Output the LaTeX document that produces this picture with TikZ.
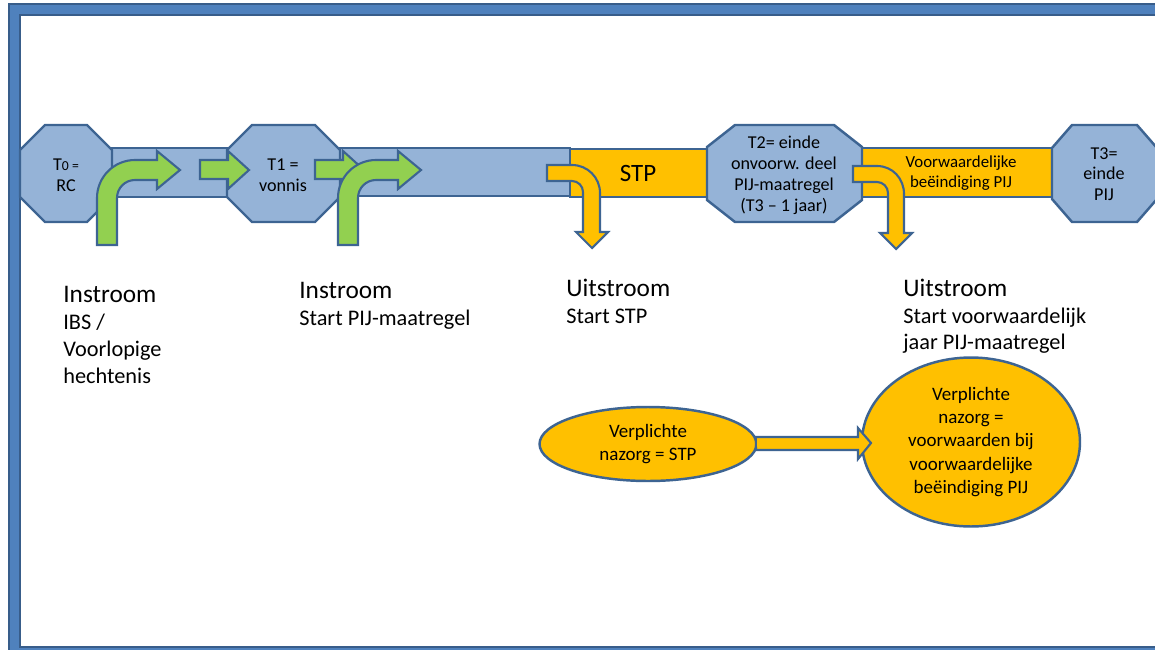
\documentclass[tikz,border=0pt]{standalone}
\usepackage{fontspec}
\setmainfont{Carlito}
\usetikzlibrary{shapes.geometric}
\definecolor{oblue}{HTML}{95B3D7}
\definecolor{edgeblue}{HTML}{3D6492}
\definecolor{fgreen}{HTML}{92D050}
\definecolor{forange}{HTML}{FFC000}
\definecolor{framefill}{HTML}{4F81BD}
\definecolor{frameedge}{HTML}{385D8A}
\begin{document}
\begin{tikzpicture}[x=0.02cm,y=-0.02cm,
  octa/.style={fill=oblue,draw=edgeblue,line width=1.4pt,line join=miter},
  bluebar/.style={fill=oblue,draw=edgeblue,line width=1.3pt},
  orangebar/.style={fill=forange,draw=edgeblue,line width=1.3pt},
  garrow/.style={fill=fgreen,draw=edgeblue,line width=1.2pt,line join=miter},
  oarrow/.style={fill=forange,draw=edgeblue,line width=1.2pt,line join=miter},
  blob/.style={ellipse,fill=forange,draw=edgeblue,line width=1.4pt,inner sep=0pt,align=center,
     font=\fontsize{10.8}{13.3}\selectfont},
  octtext/.style={align=center,font=\fontsize{10.3}{11.8}\selectfont,inner sep=0pt},
  head/.style={anchor=base west,inner sep=0pt,font=\fontsize{14.4}{16}\selectfont},
  sub/.style={anchor=base west,inner sep=0pt,font=\fontsize{12.7}{15}\selectfont}]
\useasboundingbox (0,0) rectangle (1155,649);
\fill[white] (0,0) rectangle (1155,649);
% frame
\path[fill=framefill,draw=frameedge,line width=1pt]
  (9,4) -- (1162,4) -- (1162,15) -- (20,15) -- (20,647) -- (1162,647) -- (1162,655) -- (9,655) -- cycle;
% bars
\draw[bluebar] (112,148) rectangle (227,197);
\draw[bluebar] (340,148) rectangle (570,196);
\draw[orangebar] (570,149) rectangle (707,197);
\draw[orangebar] (862,148) rectangle (1052,197);
% octagons
\draw[octa] (45,125) -- (87,125) -- (112,150) -- (112,197) -- (87,222) -- (45,222) -- (20,197) -- (20,150) -- cycle;
\draw[octa] (252,125) -- (315,125) -- (340,150) -- (340,197) -- (315,222) -- (252,222) -- (227,197) -- (227,150) -- cycle;
\draw[octa] (735,125) -- (834,125) -- (862,147) -- (862,200) -- (834,222) -- (735,222) -- (707,200) -- (707,147) -- cycle;
\draw[octa] (1072,125) -- (1137,125) -- (1157,148) -- (1157,199) -- (1137,222) -- (1072,222) -- (1052,199) -- (1052,148) -- cycle;
% octagon and bar texts
\node[octtext] (t0) at (66,175) {T{\fontsize{7.8}{9}\selectfont 0 =}\\RC};
\node[octtext] (t1) at (283,175) {T1 =\\vonnis};
\node[octtext,font=\fontsize{10.3}{12}\selectfont] (t2) at (784,175) {T2= einde\\onvoorw. deel\\PIJ-maatregel\\(T3 -- 1 jaar)};
\node[octtext] (t3) at (1104,174) {T3=\\einde\\PIJ};
\node[inner sep=0pt,font=\fontsize{14.2}{16}\selectfont] (stp) at (638,173) {STP};
\node[octtext,font=\fontsize{9.6}{11.8}\selectfont] (vb) at (961,173) {Voorwaardelijke\\beëindiging PIJ};
% green straight arrows
\draw[garrow] (200,160) -- (228,160) -- (228,151) -- (249,170) -- (228,189) -- (228,179) -- (200,179) -- cycle;
\draw[garrow] (315,160) -- (343,160) -- (343,151) -- (364,170) -- (343,189) -- (343,179) -- (315,179) -- cycle;
% green bent arrows
\draw[garrow] (97,245) -- (97,198) .. controls (97,177) and (114,160) .. (135,160) -- (157,160) -- (157,151)
  -- (180,170) -- (157,189) -- (157,180) -- (135,180) .. controls (125,180) and (117,188) .. (117,198) -- (117,245) -- cycle;
\draw[garrow] (338,245) -- (338,198) .. controls (338,177) and (355,160) .. (376,160) -- (398,160) -- (398,151)
  -- (421,170) -- (398,189) -- (398,180) -- (376,180) .. controls (366,180) and (358,188) .. (358,198) -- (358,245) -- cycle;
% orange bent-down arrows
\draw[oarrow] (547,165) -- (572,165) .. controls (587.5,165) and (600,177.5) .. (600,193) -- (600,232) -- (608,232)
  -- (592,248) -- (576,232) -- (583,232) -- (583,192) .. controls (583,186) and (578,181) .. (572,181) -- (547,181) -- cycle;
\draw[oarrow] (853,166) -- (877,166) .. controls (892.5,166) and (904,178.5) .. (904,194) -- (904,233) -- (912,233)
  -- (896,249) -- (880,233) -- (888,233) -- (888,193) .. controls (888,187) and (883,182) .. (877,182) -- (853,182) -- cycle;
% bottom labels
\node[head] (in1) at (63,302) {Instroom};
\node[sub] (in1a) at (63,329) {IBS /};
\node[sub] (in1b) at (63,356) {Voorlopige};
\node[sub] (in1c) at (63,383) {hechtenis};
\node[head] (in2) at (299,298) {Instroom};
\node[sub] (in2a) at (299,325) {Start PIJ-maatregel};
\node[head] (ui1) at (566,296) {Uitstroom};
\node[sub] (ui1a) at (566,323) {Start STP};
\node[head] (ui2) at (903,296) {Uitstroom};
\node[sub] (ui2a) at (903,323) {Start voorwaardelijk};
\node[sub] (ui2b) at (903,349) {jaar PIJ-maatregel};
% ellipses
\node[blob,minimum width=4.34cm,minimum height=1.48cm] (e1) at (648,444) {Verplichte\\nazorg = STP};
\node[blob,minimum width=4.36cm,minimum height=3.38cm] (e2) at (971,442) {\raisebox{0pt}{}Verplichte\\nazorg =\\voorwaarden bij\\voorwaardelijke\\beëindiging PIJ};
% block arrow between ellipses
\draw[oarrow] (e1.east) ++(-2,-7) -- (858,437) -- (858,428) -- (871,443) -- (858,459) -- (858,450) -- (756,450) -- cycle;
\end{tikzpicture}
\end{document}
